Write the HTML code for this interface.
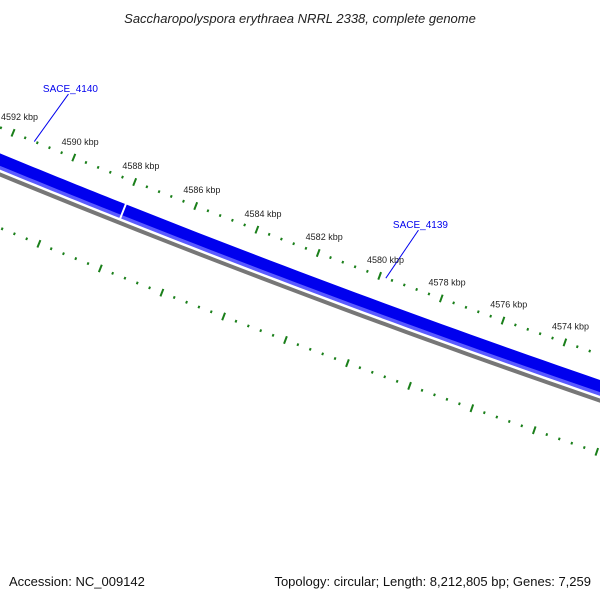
<!DOCTYPE html>
<html><head><meta charset="utf-8"><style>
html,body{margin:0;padding:0;background:#fff;}
svg{display:block;font-family:"Liberation Sans",sans-serif;}
</style></head><body>
<svg id="map" width="600" height="600" viewBox="0 0 600 600" xmlns="http://www.w3.org/2000/svg">
<text x="300" y="23" text-anchor="middle" font-size="13" font-style="italic" fill="#222">Saccharopolyspora erythraea NRRL 2338, complete genome</text>
<g id="plot"></g>
<text x="9" y="586" font-size="13" fill="#111">Accession: NC_009142</text>
<text x="591" y="586" text-anchor="end" font-size="13" fill="#111">Topology: circular; Length: 8,212,805 bp; Genes: 7,259</text>
</svg>
<script>
const majorTicks = [4596, 4594, 4592, 4590, 4588, 4586, 4584, 4582, 4580, 4578, 4576, 4574, 4572, 4570];
const minorStep = 0.4;
const geneNames = ["SACE_4140", "SACE_4139"];
const geneStarts = [4600, 4587.97];
const geneEnds = [4588.03, 4560];
const geneLabelPos = [4591.3, 4579.8];

const NS = "http://www.w3.org/2000/svg";
const g = document.getElementById("plot");
const CX = 4122, CY = -9855, R0 = 10800, K = 0.003037;
const PHI0 = Math.atan2(232 - CY, 256 - CX);
function ang(p){ return PHI0 + (p - 4584) * K; }
function pt(p, r){ const a = ang(p); return [CX + r*Math.cos(a), CY + r*Math.sin(a)]; }
function mk(tag, attrs){ const e = document.createElementNS(NS, tag); for (const k in attrs) e.setAttribute(k, attrs[k]); g.appendChild(e); return e; }
function arcPath(p1, p2, r){ let d = ""; const n = 60; for (let i=0;i<=n;i++){ const p = p1 + (p2-p1)*i/n; const q = pt(p, r); d += (i?"L":"M") + q[0].toFixed(2) + "," + q[1].toFixed(2); } return d; }
function band(p1, p2, r1, r2){ let d = arcPath(p1, p2, r1); const n = 60; for (let i=n;i>=0;i--){ const p = p1 + (p2-p1)*i/n; const q = pt(p, r2); d += "L" + q[0].toFixed(2) + "," + q[1].toFixed(2); } return d + "Z"; }

// backbone
const bb = mk("path", {d: arcPath(4600, 4560, R0 + 43.5), stroke: "#777", "stroke-width": 4, fill: "none"});



// genes
for (let i = 0; i < geneNames.length; i++) {
  const s = geneStarts[i], e = geneEnds[i];
  const dark = mk("path", {d: band(s, e, R0 + 24, R0 + 36), fill: "#0000ee"});
  
  
  const light = mk("path", {d: band(s, e, R0 + 35.5, R0 + 39), fill: "#5a5aff"});
  
  
  const lp = pt(geneLabelPos[i], R0);
  const a = ang(geneLabelPos[i]);
  const ux = -Math.cos(a), uy = -Math.sin(a);
  const tx = lp[0] + ux*48 + 18, ty = lp[1] + uy*48 - 4;
  const ln = mk("line", {x1: lp[0], y1: lp[1], x2: tx - 2, y2: ty + 1, stroke: "#0000ee", "stroke-width": 1});
  
  
  const t = mk("text", {x: tx, y: ty - 1, "text-anchor": "middle", "font-size": 10, fill: "#0000ee"});
  t.textContent = geneNames[i];
  
  
}

// ticks on two rows
const rows = [R0, R0 + 93];
rows.forEach((r, ri) => {
  const lo = Math.min(...majorTicks), hi = Math.max(...majorTicks);
  const n = Math.round((hi - lo) / minorStep);
  for (let i = 0; i <= n; i++) {
    const p = lo + i * minorStep;
    const isMajor = majorTicks.some(m => Math.abs(m - p) < 1e-6);
    const len = isMajor ? 4 : 1.3;
    const a = pt(p, r - len), b = pt(p, r + len);
    const tk = mk("line", {x1: a[0], y1: a[1], x2: b[0], y2: b[1], stroke: "#1a7f1a", "stroke-width": 2});
    
    
  }
  if (ri === 0) {
    majorTicks.forEach(m => {
      const q = pt(m, r - 17);
      const t = mk("text", {x: q[0], y: q[1] + 3, "text-anchor": "middle", "font-size": 9, fill: "#222"});
      t.textContent = m + " kbp";
      
      
    });
  }
});
</script>
</body></html>
